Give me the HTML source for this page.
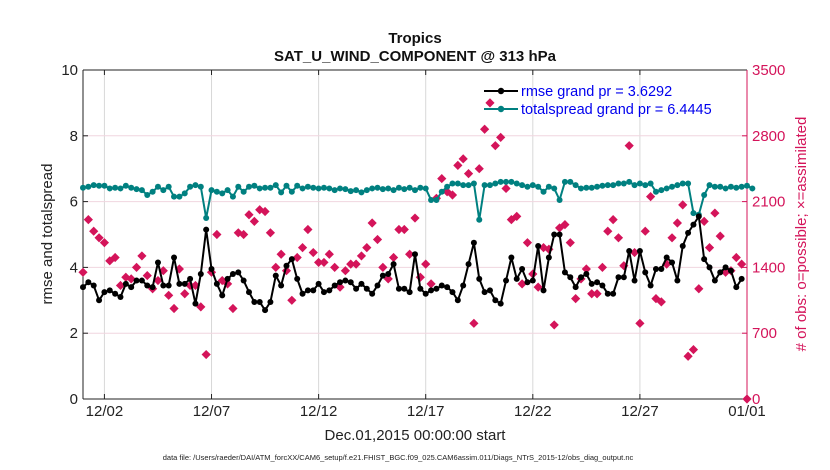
<!DOCTYPE html>
<html><head><meta charset="utf-8"><style>
body{margin:0;background:#fff;width:830px;height:470px;overflow:hidden}
svg{display:block;font-family:"Liberation Sans",sans-serif}
</style></head><body>
<svg id="chart" width="830" height="470" viewBox="0 0 830 470">
<g id="grid"></g>
<g id="axes"></g>
<g id="marks"></g>
<text x="415" y="43" text-anchor="middle" font-size="15" font-weight="bold" fill="#111">Tropics</text>
<text x="415" y="61" text-anchor="middle" font-size="15" font-weight="bold" fill="#111">SAT_U_WIND_COMPONENT @ 313 hPa</text>
<text transform="translate(52,234) rotate(-90)" text-anchor="middle" font-size="15" fill="#222">rmse and totalspread</text>
<text transform="translate(806,234) rotate(-90)" text-anchor="middle" font-size="15" fill="#d4145a"># of obs: o=possible; ×=assimilated</text>
<text x="415" y="440" text-anchor="middle" font-size="15" fill="#222">Dec.01,2015 00:00:00 start</text>
<text x="398" y="460" text-anchor="middle" font-size="7.5" fill="#222">data file: /Users/raeder/DAI/ATM_forcXX/CAM6_setup/f.e21.FHIST_BGC.f09_025.CAM6assim.011/Diags_NTrS_2015-12/obs_diag_output.nc</text>
<g>
<line x1="484" y1="91" x2="518" y2="91" stroke="#000" stroke-width="2"/><circle cx="501" cy="91" r="3.2" fill="#000"/>
<text x="521" y="96" font-size="14.5" fill="#0000ee">rmse grand pr = 3.6292</text>
<line x1="484" y1="109" x2="518" y2="109" stroke="#008080" stroke-width="2"/><circle cx="501" cy="109" r="3.2" fill="#008080"/>
<text x="521" y="114" font-size="14.5" fill="#0000ee">totalspread grand pr = 6.4445</text>
</g>
</svg>
<script>
const rmse=[3.4,3.55,3.45,3.0,3.25,3.3,3.2,3.1,3.5,3.4,3.6,3.6,3.45,3.4,4.15,3.45,3.45,4.3,3.5,3.5,3.65,2.9,3.8,5.15,3.95,3.5,3.15,3.65,3.8,3.85,3.6,3.25,2.95,2.95,2.7,2.95,3.75,3.45,4.05,4.25,3.65,
3.2,3.3,3.3,3.5,3.25,3.3,3.45,3.55,3.6,3.55,3.35,3.5,3.35,3.2,3.45,3.75,3.8,4.1,3.35,3.35,3.25,4.4,3.35,3.2,3.3,3.35,3.45,3.4,3.25,3.0,3.45,4.1,4.75,3.65,3.25,3.3,3.0,2.9,3.6,4.3,3.65,
3.95,3.55,3.6,4.65,3.3,4.3,5.0,5.0,3.85,3.7,3.4,3.7,3.8,3.5,3.55,3.45,3.2,3.2,3.7,3.7,4.5,3.6,4.5,3.85,3.45,3.95,3.95,4.3,4.15,3.6,4.65,5.05,5.3,5.55,4.25,4.0,3.6,3.85,4.0,3.9,3.4,3.65];
const spread=[6.42,6.45,6.5,6.48,6.48,6.4,6.42,6.4,6.48,6.42,6.38,6.35,6.2,6.3,6.45,6.35,6.45,6.15,6.15,6.25,6.45,6.5,6.45,5.5,6.35,6.3,6.25,6.35,6.15,6.45,6.3,6.45,6.48,6.4,6.42,6.42,6.5,6.28,6.48,6.3,6.48,
6.4,6.45,6.42,6.4,6.42,6.4,6.35,6.4,6.38,6.32,6.35,6.28,6.35,6.4,6.42,6.38,6.4,6.35,6.42,6.38,6.42,6.35,6.42,6.4,6.05,6.05,6.3,6.45,6.55,6.55,6.5,6.5,6.55,5.45,6.5,6.5,6.55,6.6,6.6,6.6,6.55,
6.5,6.45,6.5,6.45,6.3,6.45,6.4,6.05,6.6,6.6,6.5,6.4,6.42,6.42,6.45,6.48,6.5,6.5,6.55,6.55,6.6,6.5,6.55,6.5,6.55,6.3,6.35,6.4,6.45,6.5,6.55,6.55,5.65,5.6,6.2,6.5,6.45,6.45,6.4,6.45,6.42,6.45,6.48,6.4];
const obs=[3.85,5.45,5.1,4.9,4.75,4.2,4.3,3.45,3.7,3.65,4.0,4.35,3.75,3.35,3.6,3.9,3.15,2.75,3.95,3.2,3.45,3.45,2.8,1.35,3.85,5.0,3.6,3.5,2.75,5.05,5.0,5.6,5.4,5.75,5.7,5.05,4.0,4.4,3.9,3.0,
4.3,4.6,5.15,4.45,4.15,4.15,4.4,4.0,3.4,3.9,4.1,4.1,4.35,4.6,5.35,4.85,4.0,3.65,4.3,5.15,5.15,4.4,5.5,3.7,4.1,3.5,6.1,6.7,6.3,6.2,7.1,7.3,6.85,2.3,7.0,8.2,9.0,7.7,7.95,
6.4,5.45,5.55,3.5,4.75,3.8,3.4,4.6,4.55,2.25,5.2,5.3,4.75,3.05,3.65,3.95,3.2,3.2,4.0,5.1,5.45,4.9,4.05,7.7,4.45,2.3,5.1,6.15,3.05,2.95,4.1,4.9,5.35,5.9,1.3,1.5,3.35,5.4,4.6,5.65,4.95,3.85,3.9,4.3,4.1,0].map(v=>Math.round(v*350));
const xTickLabels=["12/02","12/07","12/12","12/17","12/22","12/27","01/01"];
const xTickDays=[1,6,11,16,21,26,31];
const yTicks=[0,2,4,6,8,10];
const y2Ticks=[0,700,1400,2100,2800,3500];

const X0=83,X1=747,Y0=399,Y1=70;
const sx=d=>X0+(X1-X0)*d/31;
const sy=v=>Y0-(Y0-Y1)*v/10;
const sy2=v=>Y0-(Y0-Y1)*v/3500;
const NS="http://www.w3.org/2000/svg";
function mk(tag,attrs,parent){const e=document.createElementNS(NS,tag);for(const k in attrs)e.setAttribute(k,attrs[k]);parent.appendChild(e);return e;}
const grid=document.getElementById('grid'),axes=document.getElementById('axes'),marks=document.getElementById('marks');
mk('rect',{x:X0,y:Y1,width:X1-X0,height:Y0-Y1,fill:'#fff'},grid);
xTickDays.forEach((d,i)=>{
 const l=mk('line',{x1:sx(d),x2:sx(d),y1:Y1,y2:Y0,stroke:'#d8d8d8','stroke-width':1},grid);
 
 
 mk('line',{x1:sx(d),x2:sx(d),y1:Y0,y2:Y0-5,stroke:'#222'},axes);
 mk('line',{x1:sx(d),x2:sx(d),y1:Y1,y2:Y1+5,stroke:'#222'},axes);
 const t=mk('text',{x:sx(d),y:416,'text-anchor':'middle','font-size':15,fill:'#222'},axes);
 t.textContent=xTickLabels[i];
 
 
});
yTicks.forEach(v=>{
 if(v>0&&v<10){const l=mk('line',{x1:X0,x2:X1,y1:sy(v),y2:sy(v),stroke:'#f0d6df','stroke-width':1},grid);
 
 }
 mk('line',{x1:X0,x2:X0+5,y1:sy(v),y2:sy(v),stroke:'#222'},axes);
 const t=mk('text',{x:X0-5,y:sy(v)+5,'text-anchor':'end','font-size':15,fill:'#222'},axes);
 t.textContent=v;
 
 
});
y2Ticks.forEach(v=>{
 mk('line',{x1:X1-5,x2:X1,y1:sy2(v),y2:sy2(v),stroke:'#d4145a'},axes);
 const t=mk('text',{x:X1+5,y:sy2(v)+5,'font-size':15,fill:'#d4145a'},axes);
 t.textContent=v;
 
 
});
mk('line',{x1:X0,x2:X1,y1:Y0,y2:Y0,stroke:'#222'},axes);
mk('line',{x1:X0,x2:X1,y1:Y1,y2:Y1,stroke:'#222'},axes);
mk('line',{x1:X0,x2:X0,y1:Y1,y2:Y0,stroke:'#222'},axes);
mk('line',{x1:X1,x2:X1,y1:Y1,y2:Y0,stroke:'#d4145a'},axes);

obs.forEach((v,i)=>{
 const x=sx(i*0.25),y=sy2(v),s=4.6;
 const p=mk('polygon',{points:`${x},${y-s} ${x+s},${y} ${x},${y+s} ${x-s},${y}`,fill:'#d4145a'},marks);
 
 
});
function series(arr,color,name){
 const pts=arr.map((v,i)=>sx(i*0.25)+','+sy(v)).join(' ');
 const pl=mk('polyline',{points:pts,fill:'none',stroke:color,'stroke-width':2},marks);
 
 
 arr.forEach((v,i)=>{
  const c=mk('circle',{cx:sx(i*0.25),cy:sy(v),r:3,fill:color},marks);
  
  
 });
}
series(spread,'#008080','totalspread');
series(rmse,'#000','rmse');
</script>
</body></html>
